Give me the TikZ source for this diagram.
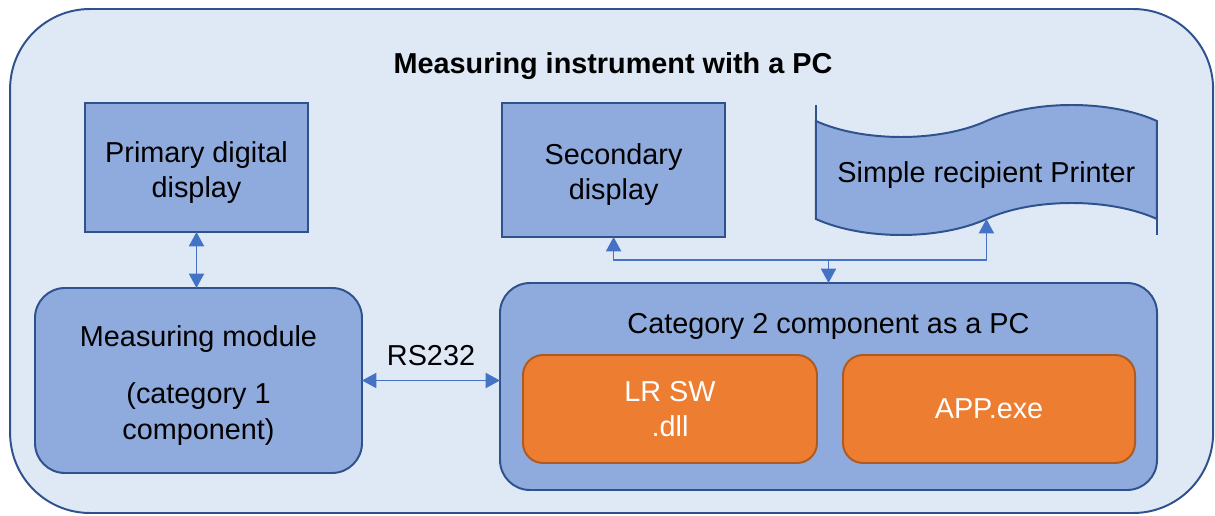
\documentclass[tikz,border=0pt]{standalone}
\usepackage{fontspec}
\setmainfont{Liberation Sans}
\usetikzlibrary{positioning,arrows.meta,calc,shapes.symbols}
\definecolor{paleblue}{HTML}{DEE9F5}
\definecolor{midblue}{HTML}{8FAADC}
\definecolor{edgeblue}{HTML}{2F528F}
\definecolor{linkblue}{HTML}{4472C4}
\definecolor{orangefill}{HTML}{ED7D31}
\definecolor{orangeedge}{HTML}{AE5A21}
\newcommand{\lift}{\rule{0pt}{7.7mm}}

\begin{document}
\begin{tikzpicture}[
  font=\fontsize{20.5}{25}\selectfont,
  >={Triangle[length=3.6mm,width=3.8mm]},
  frame/.style={draw=edgeblue,line width=1.4pt,fill=paleblue,rounded corners=2cm,minimum width=30.075cm,minimum height=12.6cm},
  unit/.style={draw=edgeblue,line width=1.4pt,fill=midblue,align=center,inner sep=0pt,outer sep=0pt},
  module/.style={unit,rounded corners=7.5mm},
  sw/.style={draw=orangeedge,line width=1.4pt,fill=orangefill,text=white,align=center,rounded corners=5mm,minimum height=2.7cm},
  link/.style={draw=linkblue,line width=1pt}
]
\useasboundingbox (0,0) rectangle (30.375,12.875);
\node[frame] (box) at (15.29,6.35) {};
\node[font=\fontsize{20.5}{25}\selectfont\bfseries] (title) at (15.325,11.225) {Measuring instrument with a PC};

\node[unit,minimum width=5.575cm,minimum height=3.225cm] (prim) at (4.9125,8.6875) {\lift Primary digital\\display};
\node[unit,minimum width=5.575cm,minimum height=3.35cm] (sec) at (15.34,8.625) {\lift Secondary\\display};
\node[unit,tape,tape bend height=8mm,minimum width=8.525cm,minimum height=3.25cm] (prn) at (24.66,8.625) {\lift Simple recipient Printer};
\draw[edgeblue,line width=1.4pt] (prn.west) -- ++(0,1.625);
\draw[edgeblue,line width=1.4pt] (prn.east) -- ++(0,-1.625);

\node[module,minimum width=8.175cm,minimum height=4.625cm] (mod) at (4.9625,3.3625) {\lift Measuring module\\[5.5mm](category 1\\component)};
\node[module,minimum width=16.425cm,minimum height=5.175cm] (cat) at (20.7125,3.2125) {};
\node (cattitle) at (20.7125,4.725) {Category 2 component as a PC};
\node[sw,minimum width=7.35cm] (dll) at (16.75,2.65) {LR SW\\.dll};
\node[sw,minimum width=7.3cm] (app) at (24.725,2.65) {APP.exe};

% links
\draw[link,<->] (prim.south) -- (prim.south |- mod.north);
\draw[link,<->] (mod.east) -- node[above=2.3mm] {RS232} (mod.east -| cat.west);
\coordinate (bus) at ($(cat.north)+(0,0.575)$);
\draw[link,->] (bus) -- (cat.north);
\draw[link,->] (bus) -| (sec.south);
\draw[link,->] (bus) -| (prn.south);
\end{tikzpicture}
\end{document}
